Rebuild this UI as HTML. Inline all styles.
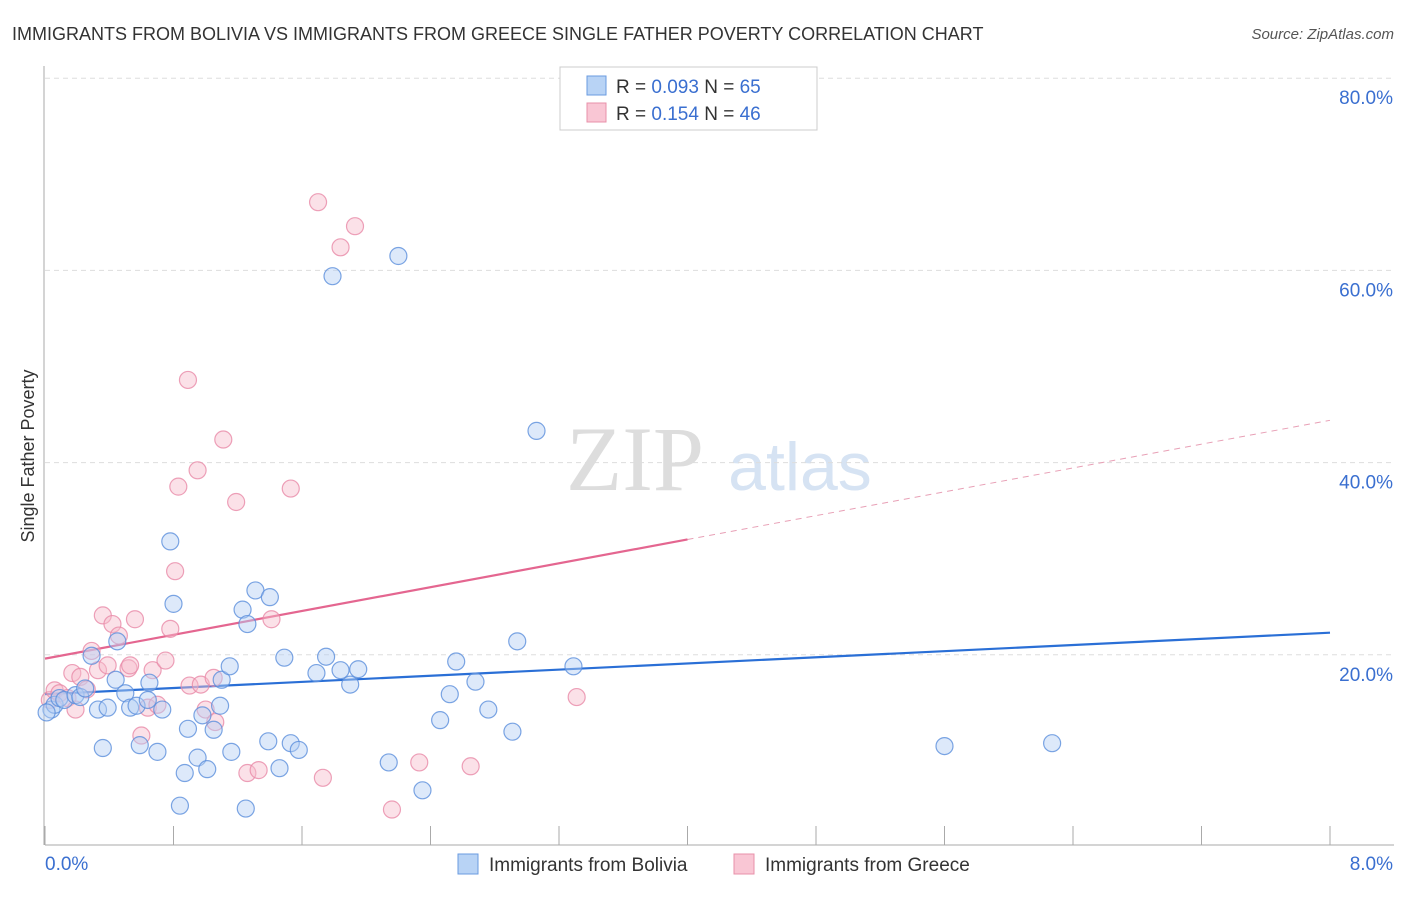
<!DOCTYPE html>
<html><head><meta charset="utf-8"><style>
body{margin:0;background:#fff;font-family:"Liberation Sans",sans-serif;}
</style></head><body>
<svg width="1406" height="892" xmlns="http://www.w3.org/2000/svg" font-family="Liberation Sans, sans-serif">
<text x="12" y="40" font-size="18" fill="#333">IMMIGRANTS FROM BOLIVIA VS IMMIGRANTS FROM GREECE SINGLE FATHER POVERTY CORRELATION CHART</text>
<text x="1394" y="39" font-size="15" fill="#555" text-anchor="end" font-style="italic">Source: ZipAtlas.com</text>
<g>
<text x="635" y="490" font-size="92" fill="#ddd" text-anchor="middle" font-family="Liberation Serif, serif">ZIP</text>
<text x="800" y="490" font-size="68" fill="#d6e3f3" text-anchor="middle">atlas</text>
</g>
<g id="grid"></g>
<g id="axes"></g>
<g id="trends"></g>
<g id="pts"></g>
<text transform="translate(34,456) rotate(-90)" font-size="18" fill="#333" text-anchor="middle">Single Father Poverty</text>
<g>
<rect x="560" y="67" width="257" height="63" fill="#fff" stroke="#ccc"/>
<rect x="587" y="76" width="19" height="19" fill="#b8d3f5" stroke="#6a9be0"/>
<text x="616" y="93" font-size="19" fill="#333">R = <tspan fill="#3a6fd0">0.093</tspan>   N = <tspan fill="#3a6fd0">65</tspan></text>
<rect x="587" y="103" width="19" height="19" fill="#f9c6d4" stroke="#e890aa"/>
<text x="616" y="120" font-size="19" fill="#333">R =  <tspan fill="#3a6fd0">0.154</tspan>   N = <tspan fill="#3a6fd0">46</tspan></text>
</g>
<g>
<rect x="458" y="854" width="20" height="20" fill="#b8d3f5" stroke="#6a9be0"/>
<text x="489" y="871" font-size="19" fill="#333">Immigrants from Bolivia</text>
<rect x="734" y="854" width="20" height="20" fill="#f9c6d4" stroke="#e890aa"/>
<text x="765" y="871" font-size="19" fill="#333">Immigrants from Greece</text>
</g>
</svg>
<script>
const xTicks=[0,0.8,1.6,2.4,3.2,4.0,4.8,5.6,6.4,7.2,8.0];
const yTicks=[20,40,60,80];
const yTickLabels=["20.0%","40.0%","60.0%","80.0%"];
const xEndLabels=["0.0%","8.0%"];
const boliviaX=[0.04,0.06,0.09,0.12,0.19,0.22,0.25,0.29,0.33,0.36,0.39,0.44,0.45,0.50,0.53,0.57,0.59,0.64,0.65,0.70,0.73,0.78,0.80,0.84,0.87,0.89,0.95,0.98,1.01,1.05,1.09,1.10,1.15,1.16,1.23,1.25,1.26,1.31,1.39,1.40,1.46,1.49,1.53,1.58,1.69,1.75,1.79,1.84,1.90,1.95,2.14,2.20,2.35,2.46,2.52,2.56,2.68,2.76,2.91,2.94,3.06,3.29,5.60,6.27,0.01];
const boliviaY=[14.3,14.8,15.5,15.3,15.8,15.6,16.5,19.9,14.3,10.3,14.5,17.4,21.4,16.0,14.5,14.7,10.6,15.3,17.1,9.9,14.3,31.8,25.3,4.3,7.7,12.3,9.3,13.7,8.1,12.2,14.7,17.4,18.8,9.9,24.7,4.0,23.2,26.7,11.0,26.0,8.2,19.7,10.8,10.1,18.1,19.8,59.4,18.4,16.9,18.5,8.8,61.5,5.9,13.2,15.9,19.3,17.2,14.3,12.0,21.4,43.3,18.8,10.5,10.8,14.0];
const greeceX=[0.03,0.06,0.09,0.14,0.17,0.19,0.22,0.26,0.29,0.33,0.36,0.39,0.42,0.46,0.52,0.53,0.56,0.60,0.64,0.67,0.70,0.75,0.78,0.81,0.83,0.89,0.90,0.95,0.97,1.00,1.05,1.06,1.11,1.19,1.26,1.33,1.41,1.53,1.70,1.73,1.84,1.93,2.16,2.33,2.65,3.31];
const greeceY=[15.3,16.3,16.0,15.5,18.1,14.3,17.7,16.4,20.4,18.4,24.1,18.9,23.2,22.0,18.6,18.9,23.7,11.6,14.5,18.4,14.8,19.4,22.7,28.7,37.5,48.6,16.8,39.2,16.9,14.3,17.6,13.0,42.4,35.9,7.7,8.0,23.7,37.3,67.1,7.2,62.4,64.6,3.9,8.8,8.4,15.6];
const boliviaTrend=[15.9,22.3];
const greeceTrend=[19.6,44.4];
const NS="http://www.w3.org/2000/svg";
const X0=45,X1=1330,Y0=847,PPY=9.61;
const sx=v=>X0+(X1-X0)*v/8;
const sy=v=>Y0-v*PPY;
function mk(tag,attrs,parent){const e=document.createElementNS(NS,tag);for(const k in attrs)e.setAttribute(k,attrs[k]);document.getElementById(parent).appendChild(e);return e;}
yTicks.forEach((t,i)=>{
 const g=mk('line',{x1:X0,x2:1394,y1:sy(t),y2:sy(t),stroke:'#ddd','stroke-dasharray':'5,4'},'grid');
 
 
 const l=mk('text',{x:1393,y:sy(t)+26,'font-size':19,fill:'#3a6fd0','text-anchor':'end'},'grid');
 l.textContent=yTickLabels[i];
 
 
});
const ax=mk('line',{x1:X0,x2:1394,y1:845,y2:845,stroke:'#aaa'},'axes');


const ay=mk('line',{x1:44,x2:44,y1:66,y2:845,stroke:'#aaa'},'axes');


xTicks.forEach(t=>{
 const k=mk('line',{x1:sx(t),x2:sx(t),y1:826,y2:845,stroke:'#aaa'},'axes');
 
 
});
[[0,'start',X0],[8,'end',1393]].forEach((a,i)=>{
 const l=mk('text',{x:a[2],y:870,'font-size':19,fill:'#3a6fd0','text-anchor':a[1]},'axes');
 l.textContent=xEndLabels[i];
 
 
});
function pts(xs,ys,fill,stroke,name){
 xs.forEach((x,i)=>{
  const c=mk('circle',{cx:sx(x),cy:sy(ys[i]),r:8.5,fill:fill,'fill-opacity':0.45,stroke:stroke,'stroke-width':1.2,'stroke-opacity':0.8},'pts');
  
  
 });
}
pts(greeceX,greeceY,'#f7bccd','#e88aa7','greece-point');
pts(boliviaX,boliviaY,'#b3cff3','#5b8fdc','bolivia-point');
const bt=mk('line',{x1:sx(0),y1:sy(boliviaTrend[0]),x2:sx(8),y2:sy(boliviaTrend[1]),stroke:'#2a6fd6','stroke-width':2.2},'trends');


const gm=(greeceTrend[0]+greeceTrend[1])/2;
const gt=mk('line',{x1:sx(0),y1:sy(greeceTrend[0]),x2:sx(4),y2:sy(gm),stroke:'#e46690','stroke-width':2.2},'trends');


const gd=mk('line',{x1:sx(4),y1:sy(gm),x2:sx(8),y2:sy(greeceTrend[1]),stroke:'#e8a0b6','stroke-width':1,'stroke-dasharray':'6,5'},'trends');


</script>
</body></html>
